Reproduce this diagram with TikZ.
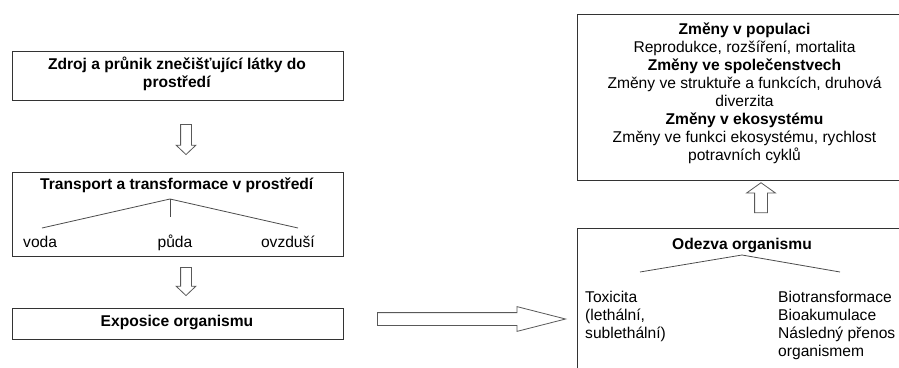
\documentclass[tikz,border=0pt]{standalone}
\usepackage{fontspec}
\setmainfont{Liberation Sans}
\usetikzlibrary{shapes.arrows}
\tikzset{
  box/.style={draw=black!80,line width=0.9pt,inner sep=0pt},
  txt/.style={inner sep=0pt,align=center,font=\fontsize{15.6}{18}\selectfont},
  lefttxt/.style={txt,align=left,anchor=north west},
  twig/.style={draw=black!70,line width=0.8pt},
  bigarrow/.style={single arrow,draw=black!65,line width=0.8pt,inner xsep=0pt,minimum width=0pt},
}
\begin{document}
\begin{tikzpicture}[x=1pt,y=-1pt]
    \clip (0,0) rectangle (899,367);
    \fill[white] (0,0) rectangle (899,367);
    \node[box,minimum width=331pt,minimum height=49pt] (zdroj) at (177.5,75.5) {};
    \node[box,minimum width=331pt,minimum height=84pt] (transport) at (177.5,214) {};
    \node[box,minimum width=331pt,minimum height=31pt] (expozice) at (177.5,323.5) {};
    \node[box,minimum width=335pt,minimum height=166pt] (zmeny) at (744.5,97) {};
    \node[box,minimum width=335pt,minimum height=152pt] (odezva) at (744.5,304) {};

    \node[txt] (zdrojtxt) at (177,74) {\textbf{Zdroj a průnik znečišťující látky do}\\\textbf{prostředí}};
    \node[txt] (transporttxt) at (177,185) {\textbf{Transport a transformace v prostředí}};
    \node[txt,anchor=base west] (voda) at (23,247) {voda};
    \node[txt,anchor=base] (puda) at (175,247) {půda};
    \node[txt,anchor=base east] (ovzdusi) at (315,247) {ovzduší};
    \node[txt] (expozicetxt) at (177,322) {\textbf{Exposice organismu}};
    \node[txt] (zmenytxt) at (744.5,93) {\textbf{Změny v populaci}\\Reprodukce, rozšíření, mortalita\\
      \textbf{Změny ve společenstvech}\\Změny ve struktuře a funkcích, druhová\\diverzita\\
      \textbf{Změny v ekosystému}\\Změny ve funkci ekosystému, rychlost\\potravních cyklů};
    \node[txt] (odezvatxt) at (742,245) {\textbf{Odezva organismu}};
    \node[lefttxt] (toxicita) at (585,290.5) {Toxicita\\(lethální,\\sublethální)};
    \node[lefttxt] (bio) at (778,290.5) {Biotransformace\\Bioakumulace\\Následný přenos\\organismem};

    \coordinate (tvrchol) at (170,199);
    \coordinate (tstred) at (170,217);
    \coordinate (tlevy) at (42,228);
    \coordinate (tpravy) at (298,228);
    \foreach \k in {tstred,tlevy,tpravy} {
      \draw[twig] (tvrchol) -- (\k);
    }
    \coordinate (ovrchol) at (742,255);
    \coordinate (olevy) at (640,272);
    \coordinate (opravy) at (840,272);
    \draw[twig] (olevy) -- (ovrchol) -- (opravy);

    \node[bigarrow,rotate=-90,minimum height=30pt,inner ysep=5pt,single arrow head extend=4.5pt,single arrow tip angle=93] (sip1) at (186,137) {};
    \node[bigarrow,rotate=-90,minimum height=28pt,inner ysep=5pt,single arrow head extend=4.5pt,single arrow tip angle=93] (sip2) at (186,279) {};
    \node[bigarrow,minimum height=188pt,inner ysep=6pt,single arrow head extend=6pt,single arrow tip angle=28.6] (sip3) at (459,319) {};
    \node[bigarrow,rotate=90,minimum height=30pt,inner ysep=6pt,single arrow head extend=8pt,single arrow tip angle=109] (sip4) at (761,200) {};
  \end{tikzpicture}
\end{document}
